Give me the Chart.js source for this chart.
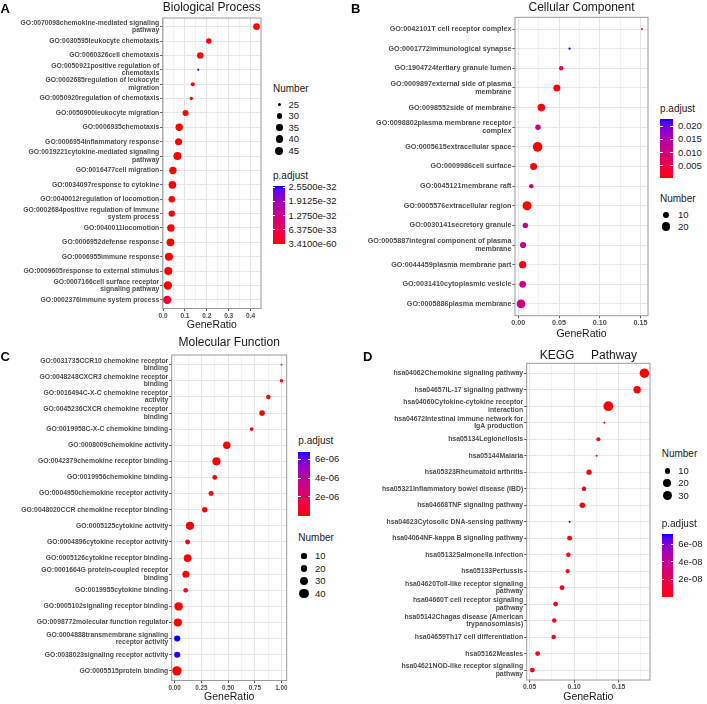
<!DOCTYPE html>
<html>
<head>
<meta charset="utf-8">
<script src="https://cdn.jsdelivr.net/npm/chart.js@4.4.1/dist/chart.umd.min.js"></script>
<style>
  html, body { margin: 0; background: #fff; }
  body { position: relative; width: 707px; height: 704px; overflow: hidden; font-family: 'Liberation Sans', Arial, sans-serif; color: #1a1a1a; }
  canvas { position: absolute; }
  .t { position: absolute; white-space: pre; line-height: 1; }
</style>
</head>
<body>
<script>
// ---- A: Biological Process ----
const bpTerms = [
  'GO:0070098chemokine-mediated signaling\npathway',
  'GO:0030595leukocyte chemotaxis',
  'GO:0060326cell chemotaxis',
  'GO:0050921positive regulation of\nchemotaxis',
  'GO:0002685regulation of leukocyte\nmigration',
  'GO:0050920regulation of chemotaxis',
  'GO:0050900leukocyte migration',
  'GO:0006935chemotaxis',
  'GO:0006954inflammatory response',
  'GO:0019221cytokine-mediated signaling\npathway',
  'GO:0016477cell migration',
  'GO:0034097response to cytokine',
  'GO:0040012regulation of locomotion',
  'GO:0002684positive regulation of immune\nsystem process',
  'GO:0040011locomotion',
  'GO:0006952defense response',
  'GO:0006955immune response',
  'GO:0009605response to external stimulus',
  'GO:0007166cell surface receptor\nsignaling pathway',
  'GO:0002376immune system process'
];
const bpRatio = [0.427, 0.209, 0.170, 0.161, 0.136, 0.129, 0.103, 0.074, 0.071, 0.066,
                 0.045, 0.043, 0.040, 0.040, 0.036, 0.034, 0.027, 0.024, 0.022, 0.019];
const bpCount = [35, 30, 34, 24, 26, 25, 32, 39, 37, 43, 39, 41, 34, 34, 39, 41, 43, 43, 45, 45];
const bpPadj = [3.41e-60, 1.2e-45, 5.6e-48, 2.62e-32, 3.1e-38, 2.2e-37, 7.4e-48, 1.1e-52, 4.5e-50, 8.2e-51,
                2.7e-47, 6.3e-49, 1.8e-41, 9.5e-42, 4.1e-44, 2.3e-45, 1.5e-43, 6.8e-40, 3.2e-38, 3.9e-33];
const bpSizeBreaks = [25, 30, 35, 40, 45];
const bpPadjBreaks = [2.55e-32, 1.9125e-32, 1.275e-32, 6.375e-33, 3.41e-60];

// ---- B: Cellular Component ----
const ccTerms = [
  'GO:0042101T cell receptor complex',
  'GO:0001772immunological synapse',
  'GO:1904724tertiary granule lumen',
  'GO:0009897external side of plasma\nmembrane',
  'GO:0098552side of membrane',
  'GO:0098802plasma membrane receptor\ncomplex',
  'GO:0005615extracellular space',
  'GO:0009986cell surface',
  'GO:0045121membrane raft',
  'GO:0005576extracellular region',
  'GO:0030141secretory granule',
  'GO:0005887integral component of plasma\nmembrane',
  'GO:0044459plasma membrane part',
  'GO:0031410cytoplasmic vesicle',
  'GO:0005886plasma membrane'
];
const ccRatio = [0.1518, 0.0629, 0.0527, 0.0474, 0.0283, 0.0242, 0.0237, 0.0188,
                 0.0160, 0.0108, 0.0087, 0.0059, 0.0054, 0.0054, 0.0034];
const ccCount = [3, 3, 5, 12, 14, 7, 24, 12, 5, 21, 7, 9, 13, 11, 19];
const ccPadj = [0.0071, 0.0226, 0.0049, 0.00052, 0.00048, 0.0126, 0.00045, 0.00060,
                0.0104, 0.00050, 0.0115, 0.0113, 0.0015, 0.0116, 0.0109];
const ccSizeBreaks = [10, 20];
const ccPadjBreaks = [0.020, 0.015, 0.010, 0.005];

// ---- C: Molecular Function ----
const mfTerms = [
  'GO:0031735CCR10 chemokine receptor\nbinding',
  'GO:0048248CXCR3 chemokine receptor\nbinding',
  'GO:0016494C-X-C chemokine receptor\nactivity',
  'GO:0045236CXCR chemokine receptor\nbinding',
  'GO:0019958C-X-C chemokine binding',
  'GO:0008009chemokine activity',
  'GO:0042379chemokine receptor binding',
  'GO:0019956chemokine binding',
  'GO:0004950chemokine receptor activity',
  'GO:0048020CCR chemokine receptor binding',
  'GO:0005125cytokine activity',
  'GO:0004896cytokine receptor activity',
  'GO:0005126cytokine receptor binding',
  'GO:0001664G protein-coupled receptor\nbinding',
  'GO:0019955cytokine binding',
  'GO:0005102signaling receptor binding',
  'GO:0098772molecular function regulator',
  'GO:0004888transmembrane signaling\nreceptor activity',
  'GO:0038023signaling receptor activity',
  'GO:0005515protein binding'
];
const mfRatio = [1.0, 1.0, 0.877, 0.818, 0.721, 0.488, 0.391, 0.375, 0.341, 0.281,
                 0.143, 0.121, 0.121, 0.105, 0.103, 0.037, 0.030, 0.024, 0.024, 0.021];
const mfCount = [2, 4, 7, 12, 5, 24, 30, 8, 9, 11, 30, 9, 27, 21, 8, 33, 30, 15, 15, 42];
const mfPadj = [2.0e-6, 1.5e-7, 4.0e-8, 2.1e-8, 3.3e-7, 5.2e-9, 1.2e-9, 6.1e-8, 8.4e-8, 3.6e-8,
                2.5e-9, 2.7e-7, 1.8e-8, 2.9e-8, 3.5e-7, 7.3e-9, 9.1e-9, 6.8e-6, 6.7e-6, 4.4e-9];
const mfSizeBreaks = [10, 20, 30, 40];
const mfPadjBreaks = [6e-6, 4e-6, 2e-6];

// ---- D: KEGG Pathway ----
const keggTerms = [
  'hsa04062Chemokine signaling pathway',
  'hsa04657IL-17 signaling pathway',
  'hsa04060Cytokine-cytokine receptor\ninteraction',
  'hsa04672Intestinal immune network for\nIgA production',
  'hsa05134Legionellosis',
  'hsa05144Malaria',
  'hsa05323Rheumatoid arthritis',
  'hsa05321Inflammatory bowel disease (IBD)',
  'hsa04668TNF signaling pathway',
  'hsa04623Cytosolic DNA-sensing pathway',
  'hsa04064NF-kappa B signaling pathway',
  'hsa05132Salmonella infection',
  'hsa05133Pertussis',
  'hsa04620Toll-like receptor signaling\npathway',
  'hsa04660T cell receptor signaling\npathway',
  'hsa05142Chagas disease (American\ntrypanosomiasis)',
  'hsa04659Th17 cell differentiation',
  'hsa05162Measles',
  'hsa04621NOD-like receptor signaling\npathway'
];
const keggRatio = [0.1789, 0.1707, 0.1384, 0.1339, 0.1272, 0.1253, 0.1167, 0.1111, 0.1092, 0.0949,
                   0.0949, 0.0935, 0.0927, 0.0864, 0.0792, 0.0777, 0.0770, 0.0590, 0.0530];
const keggCount = [31, 18, 33, 4, 6, 4, 9, 7, 10, 4, 8, 7, 6, 8, 8, 7, 7, 8, 8];
const keggPadj = [2.1e-20, 4.5e-14, 1.3e-19, 6.2e-9, 3.8e-10, 5.9e-9, 2.4e-10, 1.5e-9, 8.7e-12, 7.1e-8,
                  3.3e-10, 1.1e-9, 9.4e-10, 2.6e-9, 4.8e-9, 3.9e-9, 4.1e-9, 3.5e-9, 4.4e-9];
const keggSizeBreaks = [10, 20, 30];
const keggPadjBreaks = [6e-8, 4e-8, 2e-8];

// red -> blue gradient interpolated in CIE Lab (as ggplot does)
const lin = c => { c /= 255; return c <= 0.04045 ? c / 12.92 : Math.pow((c + 0.055) / 1.055, 2.4); };
const gam = c => { c = c <= 0.0031308 ? 12.92 * c : 1.055 * Math.pow(c, 1 / 2.4) - 0.055; return Math.round(Math.min(1, Math.max(0, c)) * 255); };
const WX = 0.95047, WZ = 1.08883;
function rgb2lab(rgb) {
  const [r, g, b] = rgb.map(lin);
  const x = (0.4124 * r + 0.3576 * g + 0.1805 * b) / WX;
  const y = 0.2126 * r + 0.7152 * g + 0.0722 * b;
  const z = (0.0193 * r + 0.1192 * g + 0.9505 * b) / WZ;
  const f = t => t > 0.008856 ? Math.cbrt(t) : 7.787 * t + 16 / 116;
  return [116 * f(y) - 16, 500 * (f(x) - f(y)), 200 * (f(y) - f(z))];
}
function lab2rgb([L, a, b]) {
  const fy = (L + 16) / 116, fx = fy + a / 500, fz = fy - b / 200;
  const fi = t => t ** 3 > 0.008856 ? t ** 3 : (t - 16 / 116) / 7.787;
  const x = WX * fi(fx), y = fi(fy), z = WZ * fi(fz);
  const r = 3.2406 * x - 1.5372 * y - 0.4986 * z;
  const g = -0.9689 * x + 1.8758 * y + 0.0415 * z;
  const bb = 0.0557 * x - 0.2040 * y + 1.0570 * z;
  return `rgb(${gam(r)},${gam(g)},${gam(bb)})`;
}
const LAB_LO = rgb2lab([255, 0, 0]), LAB_HI = rgb2lab([0, 0, 255]);
const ramp = t => lab2rgb(LAB_LO.map((v, i) => v + (LAB_HI[i] - v) * t));

const sci = v => { const [m, e] = v.toExponential(0).split('e'); const n = parseInt(e, 10); return m + 'e' + (n < 0 ? '-' : '+') + String(Math.abs(n)).padStart(2, '0'); };

const panels = [
  { letter: 'A', letterPos: [0.5, 7.5], title: 'Biological Process', titleY: 7.2,
    terms: bpTerms, ratio: bpRatio, count: bpCount, padj: bpPadj,
    sizeBreaks: bpSizeBreaks, padjBreaks: bpPadjBreaks, padjFmt: v => v.toExponential(4),
    step: 0.1, dec: 1, rMin: 1.0, rMax: 4.2, labelSize: 6.8, tickSize: 6.5,
    canvas: { x: 0, y: 0, w: 272, h: 332 }, plot: { left: 162.7, top: 18, right: 261, bottom: 308.5 },
    sizeLeg: { x: 273, titleY: 89.3, dotX: 279.3, y0: 104.7, dy: 11.5, labelX: 288.5 },
    colLeg: { x: 273, titleY: 175.7, top: 185.5, h: 58.5, w: 12, labelX: 288.5 } },
  { letter: 'B', letterPos: [351, 7.5], title: 'Cellular Component', titleY: 7.4,
    terms: ccTerms, ratio: ccRatio, count: ccCount, padj: ccPadj,
    sizeBreaks: ccSizeBreaks, padjBreaks: ccPadjBreaks, padjFmt: v => v.toFixed(3),
    step: 0.05, dec: 2, rMin: 1.1, rMax: 4.8, labelSize: 7.2, tickSize: 7.2,
    canvas: { x: 350, y: 0, w: 305, h: 341 }, plot: { left: 515, top: 17.3, right: 648, bottom: 315.7 },
    sizeLeg: { x: 660, titleY: 199, dotX: 666, y0: 215, dy: 11.7, labelX: 678 },
    colLeg: { x: 660, titleY: 109.3, top: 119, h: 59, w: 12.5, labelX: 678 } },
  { letter: 'C', letterPos: [0.5, 356], title: 'Molecular Function', titleY: 342,
    terms: mfTerms, ratio: mfRatio, count: mfCount, padj: mfPadj,
    sizeBreaks: mfSizeBreaks, padjBreaks: mfPadjBreaks, padjFmt: sci,
    step: 0.25, dec: 2, rMin: 0.9, rMax: 4.7, labelSize: 6.8, tickSize: 6.3,
    canvas: { x: 0, y: 335, w: 297, h: 369 }, plot: { left: 171.7, top: 355, right: 286.7, bottom: 680.5 },
    sizeLeg: { x: 298.3, titleY: 538.3, dotX: 304, y0: 556, dy: 12.5, labelX: 315 },
    colLeg: { x: 298.3, titleY: 440.7, top: 451.7, h: 64, w: 11.7, labelX: 315 } },
  { letter: 'D', letterPos: [363, 356], title: 'KEGG     Pathway', titleY: 354.7,
    terms: keggTerms, ratio: keggRatio, count: keggCount, padj: keggPadj,
    sizeBreaks: keggSizeBreaks, padjBreaks: keggPadjBreaks, padjFmt: sci,
    step: 0.05, dec: 2, rMin: 1.0, rMax: 4.9, labelSize: 6.9, tickSize: 6.8,
    canvas: { x: 350, y: 340, w: 308, h: 364 }, plot: { left: 526.7, top: 363.3, right: 650, bottom: 680 },
    sizeLeg: { x: 661.7, titleY: 454.3, dotX: 667.3, y0: 471, dy: 12.3, labelX: 678.3 },
    colLeg: { x: 661.7, titleY: 523.5, top: 534.3, h: 62.4, w: 11.6, labelX: 678.3 } }
];

function addText(txt, x, y, css) {
  const d = document.createElement('div');
  d.className = 't';
  d.textContent = txt;
  d.style.left = x + 'px';
  d.style.top = y + 'px';
  d.style.transform = 'translateY(-50%)';
  Object.assign(d.style, css || {});
  document.body.appendChild(d);
  return d;
}
function addBox(x, y, w, h, css) {
  const d = document.createElement('div');
  Object.assign(d.style, { position: 'absolute', left: x + 'px', top: y + 'px', width: w + 'px', height: h + 'px' }, css);
  document.body.appendChild(d);
}

const panelBorder = {
  id: 'panelBorder',
  afterDatasetsDraw(chart) {
    const { ctx, chartArea: a } = chart;
    ctx.save();
    ctx.strokeStyle = '#9a9a9a';
    ctx.lineWidth = 1;
    ctx.strokeRect(a.left, a.top, a.right - a.left, a.bottom - a.top);
    ctx.restore();
  }
};

function buildPanel(p) {
  const g = p.canvas;
  const cv = document.createElement('canvas');
  cv.width = g.w; cv.height = g.h;
  cv.style.left = g.x + 'px'; cv.style.top = g.y + 'px';
  document.body.appendChild(cv);

  const lo = Math.min(...p.ratio), hi = Math.max(...p.ratio), pad = (hi - lo) * 0.05;
  const xmin = lo - pad, xmax = hi + pad;
  const cLo = Math.min(...p.count), cHi = Math.max(...p.count);
  const radius = n => p.rMin + (p.rMax - p.rMin) * Math.sqrt(Math.max(0, n - cLo) / (cHi - cLo));
  const pLo = Math.min(...p.padj), pHi = Math.max(...p.padj);
  const colour = v => ramp((v - pLo) / (pHi - pLo));
  const half = p.step / 2;
  const isMajor = v => Math.abs(v / p.step - Math.round(v / p.step)) < 1e-6;

  new Chart(cv, {
    type: 'bubble',
    data: {
      datasets: [{
        data: p.ratio.map((r, i) => ({ x: r, y: i, r: radius(p.count[i]) })),
        backgroundColor: p.padj.map(colour),
        borderWidth: 0, hoverRadius: 0, hitRadius: 0
      }]
    },
    options: {
      responsive: false, animation: false, events: [], devicePixelRatio: 1,
      layout: { autoPadding: false, padding: { left: 0, top: p.plot.top - g.y, right: g.x + g.w - p.plot.right, bottom: 0 } },
      plugins: { legend: { display: false }, tooltip: { enabled: false } },
      scales: {
        x: {
          type: 'linear', min: xmin, max: xmax,
          afterFit: s => { s.height = g.y + g.h - p.plot.bottom; },
          afterBuildTicks: s => {
            const t = [];
            for (let v = Math.ceil(xmin / half - 1e-9) * half; v <= xmax + 1e-9; v += half) t.push({ value: +v.toFixed(6) });
            s.ticks = t;
          },
          grid: {
            color: c => (c.tick && isMajor(c.tick.value)) ? '#e4e4e4' : '#f2f2f2',
            tickColor: c => (c.tick && isMajor(c.tick.value)) ? '#555' : 'rgba(0,0,0,0)',
            tickLength: 2.5, lineWidth: 1
          },
          border: { display: false },
          ticks: {
            autoSkip: false, maxRotation: 0, padding: 1, color: '#4d4d4d',
            font: { family: 'Liberation Sans', size: p.tickSize, weight: 'bold' },
            callback: v => isMajor(v) ? v.toFixed(p.dec) : ''
          },
          title: {
            display: true, text: 'GeneRatio', color: '#1a1a1a',
            font: { family: 'Liberation Sans', size: 10.5, lineHeight: 1.2 },
            padding: { top: 0, bottom: 1 }
          }
        },
        y: {
          type: 'linear', reverse: true, min: -0.6, max: p.terms.length - 0.4,
          afterFit: s => { s.width = p.plot.left - g.x; },
          afterBuildTicks: s => { s.ticks = p.terms.map((_, i) => ({ value: i })); },
          grid: { color: '#e6e6e6', tickColor: '#555', tickLength: 2.5, lineWidth: 1 },
          border: { display: false },
          ticks: {
            autoSkip: false, padding: 1, color: '#4d4d4d',
            font: { family: 'Liberation Sans', size: p.labelSize, weight: 'bold', lineHeight: 1.08 },
            callback: v => p.terms[v].split('\n')
          }
        }
      }
    },
    plugins: [panelBorder]
  });

  // panel letter and title
  addText(p.letter, p.letterPos[0], p.letterPos[1], { fontSize: '13px', fontWeight: 'bold', color: '#000' });
  addText(p.title, (p.plot.left + p.plot.right) / 2, p.titleY, { fontSize: '12px', transform: 'translate(-50%,-50%)' });

  // size legend
  const S = p.sizeLeg;
  addText('Number', S.x, S.titleY, { fontSize: '10px' });
  p.sizeBreaks.forEach((b, i) => {
    const y = S.y0 + i * S.dy, r = radius(b);
    addBox(S.dotX - r, y - r, 2 * r, 2 * r, { borderRadius: '50%', background: '#000' });
    addText(String(b), S.labelX, y, { fontSize: '9.5px' });
  });

  // colour bar legend
  const C = p.colLeg;
  addText('p.adjust', C.x, C.titleY, { fontSize: '10px' });
  const stops = [];
  for (let k = 0; k <= 20; k++) stops.push(ramp(k / 20) + ' ' + (k * 5) + '%');
  addBox(C.x, C.top, C.w, C.h, { background: 'linear-gradient(to top,' + stops.join(',') + ')' });
  p.padjBreaks.forEach(b => {
    const y = C.top + C.h * (1 - (b - pLo) / (pHi - pLo));
    addBox(C.x, y - 0.4, C.w * 0.2, 0.8, { background: '#fff' });
    addBox(C.x + C.w * 0.8, y - 0.4, C.w * 0.2, 0.8, { background: '#fff' });
    addText(p.padjFmt(b), C.labelX, y, { fontSize: '9.5px' });
  });
}

panels.forEach(buildPanel);
</script>
</body>
</html>
